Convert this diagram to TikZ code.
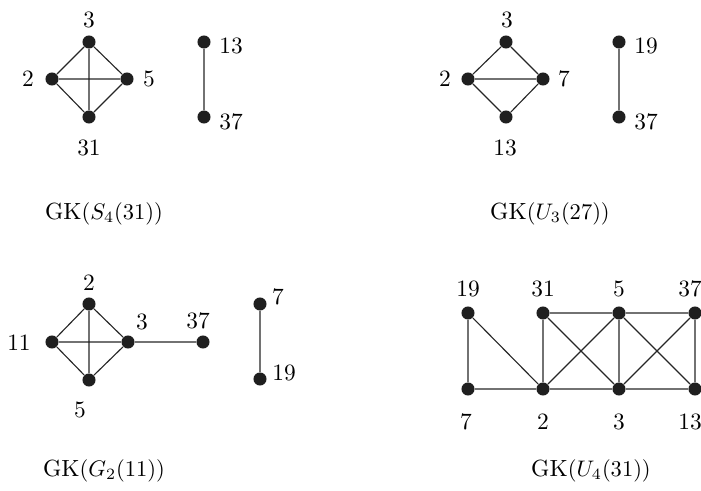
\documentclass[tikz,border=0pt]{standalone}
\begin{document}
\begin{tikzpicture}[x=0.4444pt,y=-0.4444pt,
  v/.style={circle,fill=black!88,inner sep=0pt,minimum size=5.8pt},
  e/.style={line width=0.5pt,black!85},
  lab/.style={font=\fontsize{10.4}{12.5}\selectfont,inner sep=0pt}]
\useasboundingbox (0,0) rectangle (701,491);
% ---- Panel 1: GK(S4(31))
\node[v] (a3) at (89,42) {};
\node[v] (a2) at (52,79) {};
\node[v] (a5) at (127,79) {};
\node[v] (a31) at (89,117) {};
\node[v] (a13) at (204,42) {};
\node[v] (a37) at (204,117) {};
\node[lab] (la3) at (89,20) {3};
\node[lab] (la2) at (28,79) {2};
\node[lab] (la5) at (149,79) {5};
\node[lab] (la31) at (89,148) {31};
\node[lab] (la13) at (231,46) {13};
\node[lab] (la37) at (231,122) {37};
\draw[e] (a3)--(a2) (a3)--(a5) (a3)--(a31) (a2)--(a5) (a2)--(a31) (a5)--(a31) (a13)--(a37);
\node[lab] (ca) at (104,214) {GK$(S_4(31))$};
% ---- Panel 2: GK(U3(27))
\node[v] (b3) at (506,42) {};
\node[v] (b2) at (468,79) {};
\node[v] (b7) at (543,79) {};
\node[v] (b13) at (506,117) {};
\node[v] (b19) at (619,42) {};
\node[v] (b37) at (619,117) {};
\node[lab] (lb3) at (507,20) {3};
\node[lab] (lb2) at (445,79) {2};
\node[lab] (lb7) at (564,79) {7};
\node[lab] (lb13) at (505,148) {13};
\node[lab] (lb19) at (646,46) {19};
\node[lab] (lb37) at (646,122) {37};
\draw[e] (b3)--(b2) (b3)--(b7) (b2)--(b7) (b2)--(b13) (b7)--(b13) (b19)--(b37);
\node[lab] (cb) at (550,214) {GK$(U_3(27))$};
% ---- Panel 3: GK(G2(11))
\node[v] (c2) at (89,304) {};
\node[v] (c11) at (52,342) {};
\node[v] (c3) at (128,342) {};
\node[v] (c5) at (89,380) {};
\node[v] (c37) at (203,342) {};
\node[v] (c7) at (260,304) {};
\node[v] (c19) at (260,379) {};
\node[lab] (lc2) at (89,283) {2};
\node[lab] (lc11) at (19,343) {11};
\node[lab] (lc3) at (142,322) {3};
\node[lab] (lc37) at (198,321) {37};
\node[lab] (lc5) at (80,410) {5};
\node[lab] (lc7) at (278,297) {7};
\node[lab] (lc19) at (284,373) {19};
\draw[e] (c2)--(c11) (c2)--(c3) (c2)--(c5) (c11)--(c3) (c11)--(c5) (c3)--(c5) (c3)--(c37) (c7)--(c19);
\node[lab] (cc) at (104,471) {GK$(G_2(11))$};
% ---- Panel 4: GK(U4(31))
\node[v] (d19) at (468,313) {};
\node[v] (d31) at (543,313) {};
\node[v] (d5) at (619,313) {};
\node[v] (d37) at (695,313) {};
\node[v] (d7) at (468,389) {};
\node[v] (d2) at (543,389) {};
\node[v] (d3) at (619,389) {};
\node[v] (d13) at (695,389) {};
\node[lab] (ld19) at (468,289) {19};
\node[lab] (ld31) at (543,289) {31};
\node[lab] (ld5) at (619,289) {5};
\node[lab] (ld37) at (690,289) {37};
\node[lab] (ld7) at (466,422) {7};
\node[lab] (ld2) at (543,422) {2};
\node[lab] (ld3) at (619,422) {3};
\node[lab] (ld13) at (690,422) {13};
\draw[e] (d19)--(d7) (d19)--(d2) (d7)--(d2) (d31)--(d2) (d31)--(d5) (d31)--(d3)
  (d2)--(d5) (d2)--(d3) (d5)--(d3) (d5)--(d37) (d5)--(d13) (d3)--(d37) (d3)--(d13) (d37)--(d13);
\node[lab] (cd) at (591,471) {GK$(U_4(31))$};
\end{tikzpicture}
\end{document}
